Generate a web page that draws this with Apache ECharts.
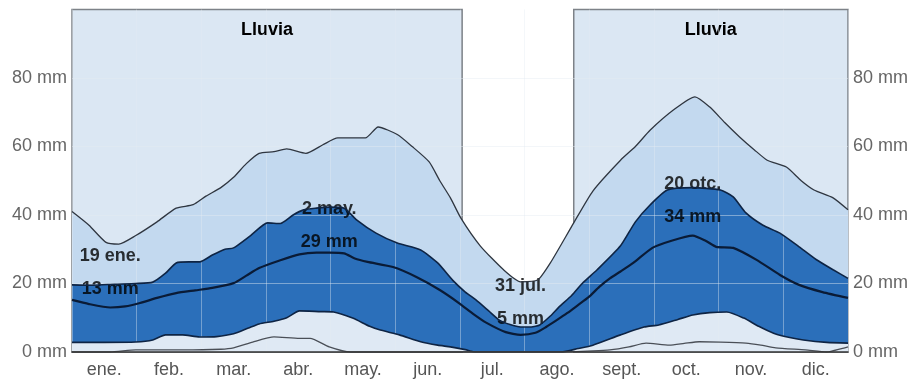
<!DOCTYPE html>
<html lang="es">
<head>
    <title>Lluvia</title>
    <meta charset="UTF-8">
    <style type="text/css">
        html,
        body {
            margin: 0px;
            width: 100%;
            height: 100%;
            background: #fff;
        }
    </style>
    <script type="text/javascript" src="https://cdn.jsdelivr.net/npm/echarts@6.0.0/dist/echarts.min.js"></script>
</head>

<body>
    <div id="chart" style="width: 913px; height: 381px;"></div>
</body>

<script type="text/javascript">
    // month labels on the bottom axis
    var months = ['ene.', 'feb.', 'mar.', 'abr.', 'may.', 'jun.', 'jul.', 'ago.', 'sept.', 'oct.', 'nov.', 'dic.'];

    // rainy season periods (day of year)
    var rainySeasons = [[0, 183.5], [236, 365]];

    // 90th percentile
    var p90Days = [0, 8, 16, 22, 30, 40, 49, 57, 63, 70, 76, 82, 88, 95, 101, 110, 118, 125, 138, 144, 153, 160, 168, 173, 178, 183, 192, 203, 211, 219, 225, 236, 245, 258, 265, 272, 283, 293, 300, 307, 314, 321, 327, 336, 343, 349, 358, 365];
    var p90Values = [41, 37, 32, 31.5, 34, 38, 42, 43, 45.5, 48, 51, 55, 58, 58.5, 59.3, 58, 60.5, 62.5, 62.5, 65.7, 63.5, 60, 55.5, 50, 45, 39, 31, 24, 20.5, 21, 26, 37.7, 47, 56, 60, 64.8, 70.7, 74.5, 71.5, 67, 62.8, 59, 56, 54, 50, 47.3, 45, 41.5];

    // 75th percentile
    var p75Days = [0, 10, 20, 30, 38, 44, 49, 55, 60, 66, 72, 76, 84, 92, 98, 104, 109, 115, 121, 128, 134, 143, 153, 164, 172, 179, 185, 190, 196, 201, 206, 211, 216, 220, 225, 229, 235, 240, 247, 258, 265, 272, 280, 292, 305, 311, 317, 325, 333, 342, 350, 358, 365];
    var p75Values = [19.6, 19.5, 19.8, 20, 20.4, 23, 26, 26.3, 26.3, 28.3, 30, 30.4, 34, 37.7, 37.5, 40, 41.5, 42, 42.3, 42, 38.5, 34.7, 31.8, 29.8, 26, 21, 17.5, 15.2, 12, 9.3, 8, 7.3, 7.3, 7.9, 10.5, 13.1, 16.5, 20, 24, 31, 38, 43, 47.3, 48, 47.3, 45.3, 40.6, 37, 34.7, 30.7, 27, 24, 21.5];

    // median
    var medDays = [0, 8, 18, 25, 32, 40, 49, 58, 66, 76, 82, 88, 98, 107, 115, 121, 128, 133, 139, 151, 162, 173, 182, 189, 195, 204, 211, 218, 223, 228, 233, 238, 243, 248, 253, 258, 264, 273, 282, 292, 298, 303, 311, 322, 333, 342, 353, 365];
    var medValues = [15.2, 14, 13, 13.3, 14.3, 15.8, 17.2, 18, 18.7, 20.1, 22.3, 24.5, 26.8, 28.5, 29, 29, 28.8, 27.3, 26.3, 24.8, 21.9, 18.1, 14.3, 11, 8.5, 5.8, 5, 5.6, 7.3, 9.3, 11.4, 13.7, 16, 19, 21.5, 23.5, 26, 30.4, 32.5, 34, 32.5, 30.7, 30.4, 26.9, 22.5, 19.6, 17.5, 15.8];

    // 25th percentile
    var p25Days = [0, 15, 30, 38, 44, 52, 60, 68, 76, 83, 88, 95, 101, 107, 117, 123, 132, 140, 145, 154, 164, 172, 178, 185, 190, 230, 238, 245, 258, 269, 276, 285, 292, 300, 308, 316, 323, 330, 337, 344, 355, 365];
    var p25Values = [2.8, 2.8, 2.9, 3.5, 5, 5, 4.4, 4.5, 5.3, 7, 8.2, 9, 10, 12, 11.8, 11.7, 9.9, 7.5, 6.4, 5, 3, 2, 1.5, 0.7, 0, 0, 1, 2, 5, 7.3, 7.9, 9.5, 10.8, 11.5, 11.7, 9.9, 7.5, 5.5, 4.3, 3.5, 2.8, 2.6];

    // 10th percentile
    var p10Days = [0, 18, 30, 52, 70, 76, 85, 95, 107, 112, 121, 131, 230, 245, 253, 262, 270, 281, 288, 295, 305, 317, 324, 331, 345, 355, 362, 365];
    var p10Values = [0, 0, 0.6, 0.6, 0.8, 1.2, 2.9, 4.4, 4, 4, 1.5, 0, 0, 0.3, 0.6, 1.5, 2.6, 2, 2.5, 3, 2.9, 2.6, 2, 1.2, 0.6, 0, 1, 1.5];

    // highlighted values
    var annotDays = [18, 121, 211, 292];
    var annotValues = [13, 29, 5, 34];
    var annotDates = ['19 ene.', '2 may.', '31 jul.', '20 otc.'];

    function pairs(days, values) {
        return days.map(function (d, i) { return [d, values[i]]; });
    }

    function areaSeries(days, values, color) {
        return {
            type: 'line',
            data: pairs(days, values),
            symbol: 'none',
            smooth: 0.2,
            z: 2,
            lineStyle: { width: 0 },
            areaStyle: { color: color, opacity: 1 },
            silent: true
        };
    }

    function lineSeries(days, values, color, width) {
        return {
            type: 'line',
            data: pairs(days, values),
            symbol: 'none',
            smooth: 0.2,
            z: 5,
            lineStyle: { color: color, width: width },
            silent: true
        };
    }

    var font = 'Liberation Sans';
    // how far each annotation sits above its point (px)
    var labelGap = [2, -6, -1, 2];

    var chart = echarts.init(document.getElementById('chart'));

    var option = {
        animation: false,
        grid: { left: 72, right: 65, top: 9.5, bottom: 29 },
        xAxis: [
            {
                type: 'value', min: 0, max: 365, z: 6,
                axisLine: { show: true, lineStyle: { color: '#333', width: 1.5 } },
                axisTick: { show: false },
                axisLabel: { show: false },
                splitLine: { show: false }
            },
            {
                type: 'category', data: months, boundaryGap: true, position: 'bottom', z: 3,
                axisLine: { show: false },
                axisTick: { show: false },
                axisLabel: { color: '#555', fontSize: 18, fontFamily: font, margin: 9 },
                splitLine: { show: true, lineStyle: { color: 'rgba(228,234,242,0.4)', width: 1 } }
            }
        ],
        yAxis: [
            {
                type: 'value', min: 0, max: 100, interval: 20, position: 'left', z: 3,
                axisLine: { show: false },
                axisTick: { show: false },
                axisLabel: {
                    color: '#666', fontSize: 18, fontFamily: font, margin: 5,
                    formatter: function (v) { return v >= 100 ? '' : v + ' mm'; }
                },
                splitLine: {
                    show: true,
                    lineStyle: {
                        color: ['transparent', 'rgba(228,234,242,0.45)', 'rgba(228,234,242,0.45)', 'rgba(228,234,242,0.45)', 'rgba(228,234,242,0.45)', 'transparent']
                    }
                }
            },
            {
                type: 'value', min: 0, max: 100, interval: 20, position: 'right',
                axisLine: { show: false },
                axisTick: { show: false },
                axisLabel: {
                    color: '#666', fontSize: 18, fontFamily: font, margin: 5,
                    formatter: function (v) { return v >= 100 ? '' : v + ' mm'; }
                },
                splitLine: { show: false }
            }
        ],
        series: [
            {
                name: 'lluvia',
                type: 'line',
                data: [],
                z: 1,
                silent: true,
                markArea: {
                    silent: true,
                    itemStyle: { color: '#dbe7f3', borderColor: '#7d8288', borderWidth: 1.5 },
                    label: {
                        show: true, position: 'insideTop', distance: 12,
                        color: '#000', fontSize: 18, fontWeight: 'bold', fontFamily: font
                    },
                    data: rainySeasons.map(function (s) {
                        return [{ name: 'Lluvia', xAxis: s[0], yAxis: 0 }, { xAxis: s[1], yAxis: 100 }];
                    })
                }
            },
            areaSeries(p90Days, p90Values, '#c3d9ef'),
            areaSeries(p75Days, p75Values, '#2b6fba'),
            areaSeries(p25Days, p25Values, '#dfe9f4'),
            {
                type: 'scatter',
                data: annotDays.map(function (d, i) {
                    return { value: [d, annotValues[i]], label: { distance: labelGap[i] } };
                }),
                symbolSize: 0,
                z: 4,
                silent: true,
                label: {
                    show: true, position: 'top',
                    color: '#000', fontSize: 18, fontWeight: 'bold', fontFamily: font,
                    lineHeight: 33, align: 'center',
                    formatter: function (p) {
                        return annotDates[p.dataIndex] + '\n' + annotValues[p.dataIndex] + ' mm';
                    }
                }
            },
            lineSeries(p90Days, p90Values, '#2f3640', 1.3),
            lineSeries(p75Days, p75Values, '#0e2444', 1.6),
            lineSeries(medDays, medValues, '#0a1b36', 2.2),
            lineSeries(p25Days, p25Values, '#0e2444', 1.6),
            lineSeries(p10Days, p10Values, '#4a4f57', 1.3)
        ]
    };

    chart.setOption(option);
</script>

</html>
